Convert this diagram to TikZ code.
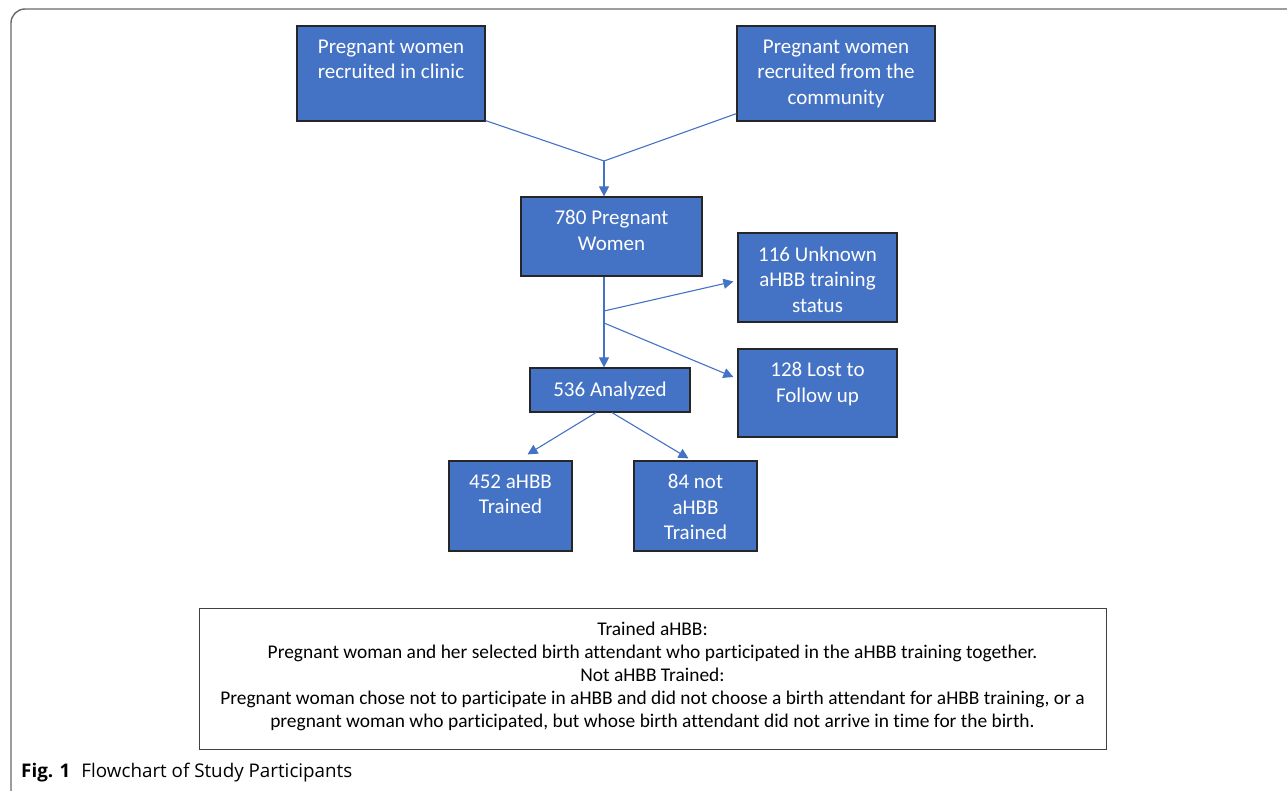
\documentclass[tikz,border=0pt]{standalone}
\usepackage{fontspec}
\setmainfont{Carlito}[Ligatures=NoCommon]
\newfontfamily\capfont{Open Sans}
\usetikzlibrary{arrows.meta}
\definecolor{boxblue}{RGB}{68,114,196}
\definecolor{framegray}{RGB}{105,105,105}

\begin{document}
\begin{tikzpicture}[x=1pt, y=-1pt, >={Triangle[length=10pt, width=10pt]},
  box/.style={fill=boxblue, draw=black!85, line width=1.2pt, inner sep=0pt},
  boxtext/.style={anchor=north, inner sep=0pt, align=center, text=white,
    font=\fontsize{21}{25.5}\selectfont},
  flow/.style={->, boxblue, line width=1.1pt}]

\useasboundingbox (0,0) rectangle (1287,790);
\clip (0,0) rectangle (1287,790);

% Frame
\draw[framegray, line width=1.4pt, rounded corners=14pt] (11,900) -- (11,9) -- (1400,9);

% ---- Recruitment boxes ----
\node[box, minimum width=188pt, minimum height=95pt] (clinic) at (391,73.5) {};
\node[boxtext] (clinic-t) at ([yshift=-14pt]clinic.north) {Pregnant women\\recruited in clinic};

\node[box, minimum width=198pt, minimum height=95pt] (comm) at (836,73.5) {};
\node[boxtext] (comm-t) at ([yshift=-14pt]comm.north) {Pregnant women\\recruited from the\\community};

% ---- Enrolled ----
\node[box, minimum width=181pt, minimum height=79pt] (n780) at (611.5,236.5) {};
\node[boxtext] (n780-t) at ([yshift=-14pt]n780.north) {780 Pregnant\\Women};

% ---- Excluded ----
\node[box, minimum width=159pt, minimum height=89pt] (n116) at (817.5,277.5) {};
\node[boxtext] (n116-t) at ([yshift=-14pt]n116.north) {116 Unknown\\aHBB training\\status};

\node[box, minimum width=159pt, minimum height=88pt] (n128) at (817.5,393) {};
\node[boxtext] (n128-t) at ([yshift=-14pt]n128.north) {128 Lost to\\Follow up};

% ---- Analyzed ----
\node[box, minimum width=160pt, minimum height=44pt] (n536) at (610,390) {};
\node[boxtext] (n536-t) at ([yshift=-14pt]n536.north) {536 Analyzed};

\node[box, minimum width=123pt, minimum height=90pt] (n452) at (510.5,506) {};
\node[boxtext] (n452-t) at ([yshift=-14pt]n452.north) {452 aHBB\\Trained};

\node[box, minimum width=123pt, minimum height=90pt] (n84) at (695.5,506) {};
\node[boxtext] (n84-t) at ([yshift=-14pt]n84.north) {84 not\\aHBB\\Trained};

% ---- Connectors ----
\coordinate (merge) at (604,161);
\coordinate (split1) at (604,311);
\coordinate (split2) at (604,323);
\draw[boxblue, line width=1.1pt] ([yshift=1pt]clinic.south east) -- (merge);
\draw[boxblue, line width=1.1pt] ([yshift=8pt]comm.south west) -- (merge);
\draw[flow] (merge) -- (merge |- n780.north);
\draw[flow] (n780.south -| merge) -- (merge |- n536.north);
\draw[flow] (split1) -- ([xshift=-4pt, yshift=-4pt]n116.west);
\draw[flow] (split2) -- ([xshift=-4pt, yshift=16pt]n128.west);
\draw[flow] ([xshift=-14pt]n536.south) -- ([xshift=17pt, yshift=6pt]n452.north);
\draw[flow] ([xshift=2pt]n536.south) -- ([xshift=-7pt, yshift=2pt]n84.north);

% ---- Definitions ----
\node[draw=black!75, line width=1pt, fill=white, minimum width=907pt, minimum height=141pt] (legend) at (652.5,678.5) {};
\node[anchor=north, inner sep=0pt, align=center, font=\fontsize{19.4}{23}\selectfont] (legend-t) at ([yshift=-14pt]legend.north) {Trained aHBB:\\
Pregnant woman and her selected birth attendant who participated in the aHBB training together.\\
Not aHBB Trained:\\
Pregnant woman chose not to participate in aHBB and did not choose a birth attendant for aHBB training, or a\\
pregnant woman who participated, but whose birth attendant did not arrive in time for the birth.};

% Caption
\node[anchor=base west, inner sep=0pt, font=\capfont\fontsize{18.8}{21}\selectfont] (caption) at (21,777) {\textbf{Fig. 1}\hspace{11pt}Flowchart of Study Participants};

\end{tikzpicture}
\end{document}
